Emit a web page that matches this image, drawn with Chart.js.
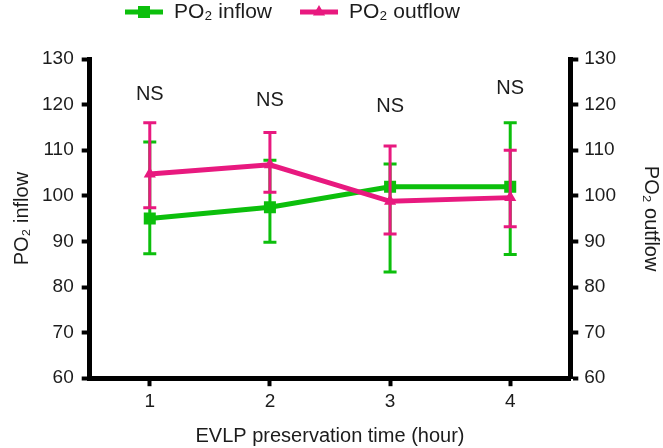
<!DOCTYPE html>
<html>
<head>
<meta charset="utf-8">
<script src="https://cdn.jsdelivr.net/npm/chart.js@4/dist/chart.umd.min.js"></script>
<style>
  html, body { margin: 0; padding: 0; background: #fff; }
  #wrap { width: 663px; height: 448px; }
</style>
</head>
<body>
<div id="wrap"><canvas id="po2"></canvas></div>
<script>
// values
var hours = ['1', '2', '3', '4'];
var inflowMean = [95, 97.5, 102, 102];
var inflowLow = [87.3, 89.8, 83.3, 87.1];
var inflowHigh = [111.8, 107.8, 107, 116];
var outflowMean = [104.8, 106.8, 98.8, 99.6];
var outflowLow = [97.4, 100.8, 91.6, 93.2];
var outflowHigh = [116, 113.9, 110.9, 110];
var nsText = ['NS', 'NS', 'NS', 'NS'];
var nsLevel = [122.2, 120.8, 119.6, 123.5];
var yTicks = [60, 70, 80, 90, 100, 110, 120, 130];

var GREEN = '#0cbf0c';
var PINK = '#e8197f';
var TXT = '#1c1c1c';
var FONT = 'Liberation Sans, Arial, sans-serif';

// whiskers, drawn just before each dataset so the line sits on top
var errorBars = {
  id: 'errorBars',
  beforeDatasetDraw: function(chart, args) {
    var ds = chart.data.datasets[args.index];
    var meta = chart.getDatasetMeta(args.index);
    var xs = chart.scales.x, ys = chart.scales[meta.yAxisID];
    var ctx = chart.ctx;
    ctx.save();
    ctx.strokeStyle = ds.borderColor;
    ctx.lineWidth = 3;
    for (var i = 0; i < ds.data.length; i++) {
      var x = xs.getPixelForValue(i);
      var lo = ys.getPixelForValue(ds.errLow[i]);
      var hi = ys.getPixelForValue(ds.errHigh[i]);
      ctx.beginPath();
      ctx.moveTo(x, lo); ctx.lineTo(x, hi);
      ctx.moveTo(x - 6.5, lo); ctx.lineTo(x + 6.5, lo);
      ctx.moveTo(x - 6.5, hi); ctx.lineTo(x + 6.5, hi);
      ctx.stroke();
    }
    ctx.restore();
  }
};

// "NS" marks above each time point
var nsLabels = {
  id: 'nsLabels',
  afterDatasetsDraw: function(chart) {
    var ctx = chart.ctx, xs = chart.scales.x, ys = chart.scales.y;
    ctx.save();
    ctx.font = '20px ' + FONT;
    ctx.fillStyle = TXT;
    ctx.textAlign = 'center';
    ctx.textBaseline = 'middle';
    for (var i = 0; i < nsText.length; i++) {
      ctx.fillText(nsText[i], xs.getPixelForValue(i), ys.getPixelForValue(nsLevel[i]));
    }
    ctx.restore();
  }
};

// legend: line with marker, then label
var lineLegend = {
  id: 'lineLegend',
  afterDraw: function(chart) {
    var ctx = chart.ctx;
    var x = 125, y = 12;
    ctx.save();
    ctx.font = '21px ' + FONT;
    ctx.textBaseline = 'middle';
    chart.data.datasets.forEach(function(ds) {
      ctx.strokeStyle = ds.borderColor;
      ctx.fillStyle = ds.borderColor;
      ctx.lineWidth = 5;
      ctx.beginPath();
      ctx.moveTo(x, y); ctx.lineTo(x + 38, y);
      ctx.stroke();
      Chart.helpers.drawPoint(ctx, {pointStyle: ds.pointStyle, radius: ds.pointRadius, borderWidth: 0}, x + 19, y);
      ctx.fillStyle = TXT;
      ctx.fillText(ds.label, x + 49, y);
      x += 49 + ctx.measureText(ds.label).width + 28;
    });
    ctx.restore();
  }
};

var ctx = document.getElementById('po2').getContext('2d');
var chart = new Chart(ctx, {
  type: 'line',
  data: {
    labels: hours,
    datasets: [{
      label: 'PO₂ inflow',
      data: inflowMean,
      errLow: inflowLow,
      errHigh: inflowHigh,
      yAxisID: 'y',
      borderColor: GREEN,
      backgroundColor: GREEN,
      borderWidth: 5,
      pointStyle: 'rect',
      pointRadius: 8.5,
      pointBorderWidth: 0,
      tension: 0,
      order: 1
    }, {
      label: 'PO₂ outflow',
      data: outflowMean,
      errLow: outflowLow,
      errHigh: outflowHigh,
      yAxisID: 'y1',
      borderColor: PINK,
      backgroundColor: PINK,
      borderWidth: 5,
      pointStyle: 'triangle',
      pointRadius: 7,
      pointBorderWidth: 0,
      tension: 0,
      order: 0
    }]
  },
  options: {
    responsive: true,
    maintainAspectRatio: false,
    animation: false,
    layout: { padding: { top: 59, left: 10, right: 0, bottom: 0 } },
    plugins: {
      legend: { display: false },
      tooltip: { enabled: false }
    },
    scales: {
      x: {
        type: 'category',
        offset: true,
        grid: { drawOnChartArea: false, offset: false, tickLength: 8, tickWidth: 4, color: '#000' },
        border: { width: 5, color: '#000' },
        ticks: { font: { family: FONT, size: 19 }, color: TXT, padding: 4 },
        title: { display: true, text: 'EVLP preservation time (hour)', font: { family: FONT, size: 20 }, color: TXT, padding: { top: 7, bottom: 0 } }
      },
      y: {
        position: 'left',
        min: 60, max: 130,
        afterBuildTicks: function(s) { s.ticks = yTicks.map(function(v) { return {value: v}; }); },
        grid: { drawOnChartArea: false, tickLength: 8, tickWidth: 4, color: '#000' },
        border: { width: 5, color: '#000' },
        ticks: { font: { family: FONT, size: 19 }, color: TXT, padding: 8 },
        title: { display: true, text: 'PO₂ inflow', font: { family: FONT, size: 20 }, color: TXT, padding: { top: 0, bottom: 0 } }
      },
      y1: {
        position: 'right',
        min: 60, max: 130,
        afterBuildTicks: function(s) { s.ticks = yTicks.map(function(v) { return {value: v}; }); },
        grid: { drawOnChartArea: false, tickLength: 8, tickWidth: 4, color: '#000' },
        border: { width: 5, color: '#000' },
        ticks: { font: { family: FONT, size: 19 }, color: TXT, padding: 6 },
        title: { display: true, text: 'PO₂ outflow', font: { family: FONT, size: 20 }, color: TXT, padding: { top: 0, bottom: 17 } }
      }
    }
  },
  plugins: [errorBars, nsLabels, lineLegend]
});
</script>
</body>
</html>
